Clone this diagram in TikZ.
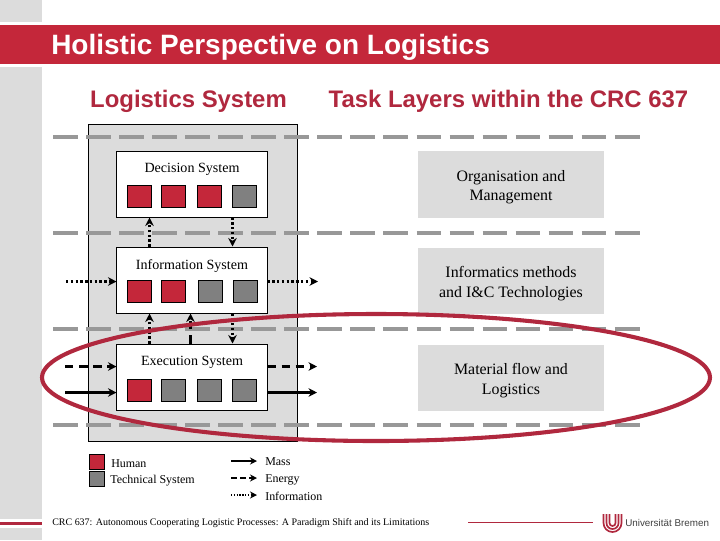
\documentclass[tikz,border=0pt]{standalone}
\usepackage{fontspec}
\setmainfont{Liberation Serif}
\setsansfont{Liberation Sans}
\usetikzlibrary{arrows.meta}
\definecolor{unired}{RGB}{196,39,58}
\definecolor{headred}{RGB}{176,40,62}
\definecolor{stripgray}{RGB}{220,220,220}
\definecolor{dashgray}{RGB}{152,152,152}
\definecolor{techgray}{RGB}{128,128,128}
\tikzset{
  sysbox/.style={draw, fill=white, line width=0.7pt, minimum width=3.75cm, minimum height=1.65cm, inner sep=0pt},
  systext/.style={font=\fontsize{10}{12}\selectfont, inner sep=0pt},
  taskbox/.style={fill=stripgray, minimum width=4.65cm, minimum height=1.65cm, inner sep=0pt},
  tasktext/.style={align=center, inner sep=0pt, font=\fontsize{11.3}{14}\selectfont},
  human/.style={draw, fill=unired, line width=0.7pt, minimum width=0.6cm, minimum height=0.55cm, inner sep=0pt},
  technical/.style={human, fill=techgray},
  heading/.style={font=\sffamily\bfseries\fontsize{17}{18}\selectfont, text=headred, inner sep=0pt},
  legendtext/.style={font=\fontsize{8.5}{10}\selectfont, anchor=west, inner sep=0pt},
  layerline/.style={dashgray, line width=2.4pt, dash pattern=on 17.6pt off 5.9pt},
  flow/.style={line width=2pt, -{Stealth[length=6pt,width=6pt]}},
  mass/.style={flow},
  energy/.style={flow, dash pattern=on 6pt off 4pt},
  information/.style={flow, line width=2.2pt, dash pattern=on 1.7pt off 1.7pt},
  legendflow/.style={line width=1.2pt, -{Stealth[length=5pt,width=5pt]}}
}
\begin{document}
\begin{tikzpicture}[x=0.025cm, y=-0.025cm]
  \useasboundingbox (0,0) rectangle (720,540);

  % Bandeau et titre
  \fill[stripgray] (0,0) rectangle (42,22);
  \fill[stripgray] (0,67) rectangle (42,540);
  \fill[white] (0,519) rectangle (42,528);
  \fill[headred] (0,521.5) rectangle (42,525);
  \fill[unired] (0,25) rectangle (720,64);
  \node[anchor=west, inner sep=0pt, text=white, font=\sffamily\bfseries\fontsize{19.9}{20}\selectfont] (title) at (51,47.5) {Holistic Perspective on Logistics};
  \node[heading] (logsys) at (188.5,101) {Logistics System};
  \node[heading] (tasks) at (508.5,101) {Task Layers within the CRC 637};

  % Panneau et lignes de couches
  \draw[fill=stripgray, line width=0.7pt] (88,124) rectangle (297,441);
  \foreach \y in {137,233,329,425}
    \draw[layerline] (53,\y) -- (640,\y);

  % Les trois systemes
  \node[sysbox] (decision) at (192,184) {};
  \node[sysbox] (info) at (192,280) {};
  \node[sysbox] (exec) at (192,377) {};
  \node[systext] (decisionlabel) at (192,169.5) {Decision System};
  \node[systext] (infolabel) at (192,266.5) {Information System};
  \node[systext] (execlabel) at (192,362.5) {Execution System};

  \foreach \n/\x/\s in {1/139/human,2/173/human,3/209/human,4/244.5/technical}
    \node[\s] (dec\n) at (\x,196) {};
  \foreach \n/\x/\s in {1/139/human,2/173/human,3/210/technical,4/245/technical}
    \node[\s] (inf\n) at (\x,291) {};
  \foreach \n/\x/\s in {1/139/human,2/173/technical,3/209/technical,4/244.5/technical}
    \node[\s] (exe\n) at (\x,390) {};

  % Couches de taches
  \node[taskbox] (organisation) at (511,184.5) {};
  \node[taskbox] (informatics) at (511,281) {};
  \node[taskbox] (material) at (511,378) {};
  \node[tasktext, yshift=-2pt] (organisationtext) at (organisation) {Organisation and\\Management};
  \node[tasktext, yshift=-2pt] (informaticstext) at (informatics) {Informatics methods\\and I\&C Technologies};
  \node[tasktext, yshift=-2pt] (materialtext) at (material) {Material flow and\\Logistics};

  % Flux verticaux
  \coordinate (upa) at (149.5,0);
  \coordinate (upb) at (190.5,0);
  \coordinate (down) at (232.5,0);
  \draw[information] (upa |- info.north) -- (upa |- decision.south);
  \draw[information] (down |- decision.south) -- (down |- info.north);
  \draw[information] (upa |- exec.north) -- (upa |- info.south);
  \draw[energy] (upb |- exec.north) -- (upb |- info.south);
  \draw[information] (down |- info.south) -- (down |- exec.north);

  % Flux horizontaux
  \coordinate (infoin) at (66,281.5);
  \coordinate (infoout) at (318,281.5);
  \coordinate (energyin) at (65,366.5);
  \coordinate (energyout) at (317,366.5);
  \coordinate (massin) at (65,392.5);
  \coordinate (massout) at (317,392.5);
  \draw[information] (infoin) -- (infoin -| info.west);
  \draw[information] (infoin -| info.east) -- (infoout);
  \draw[energy] (energyin) -- (energyin -| exec.west);
  \draw[energy] (energyin -| exec.east) -- (energyout);
  \draw[mass] (massin) -- (massin -| exec.west);
  \draw[mass] (massin -| exec.east) -- (massout);

  % Legende
  \node[human, minimum width=0.375cm, minimum height=0.375cm] (keyhuman) at (96.5,461.5) {};
  \node[technical, minimum width=0.375cm, minimum height=0.375cm] (keytech) at (96.5,478.5) {};
  \node[legendtext] (humanlabel) at (111,463.5) {Human};
  \node[legendtext] (techlabel) at (110,480.5) {Technical System};
  \node[legendtext] (masslabel) at (265,462) {Mass};
  \node[legendtext] (energylabel) at (265,479.5) {Energy};
  \node[legendtext] (infolegend) at (265,496) {Information};
  \coordinate (keymass) at (231,461);
  \coordinate (keyenergy) at (231,478);
  \coordinate (keyinfo) at (231,495);
  \coordinate (keyend) at (257,0);
  \draw[legendflow] (keymass) -- (keyend |- keymass);
  \draw[legendflow, dash pattern=on 4pt off 2.5pt] (keyenergy) -- (keyend |- keyenergy);
  \draw[legendflow, dash pattern=on 1pt off 1pt] (keyinfo) -- (keyend |- keyinfo);

  % Ellipse de mise en evidence
  \draw[headred, line width=2.9pt] (376,377.5) ellipse (334 and 63.5);

  % Pied de page
  \node[legendtext, font=\fontsize{7.1}{9}\selectfont] (footer) at (52,523.5) {CRC 637: Autonomous Cooperating Logistic Processes: A Paradigm Shift and its Limitations};
  \draw[headred, line width=1.4pt] (468,522.5) -- (593,522.5);
  \foreach \r in {3,6,9}
    \draw[headred, line width=1.2pt] (612.5-\r,514) -- (612.5-\r,523) arc (180:0:{\r} and {\r}) -- (612.5+\r,514);
  \node[legendtext, font=\sffamily\fontsize{7}{9}\selectfont, text=black!75] (unilabel) at (625,523) {Universität Bremen};
\end{tikzpicture}
\end{document}
